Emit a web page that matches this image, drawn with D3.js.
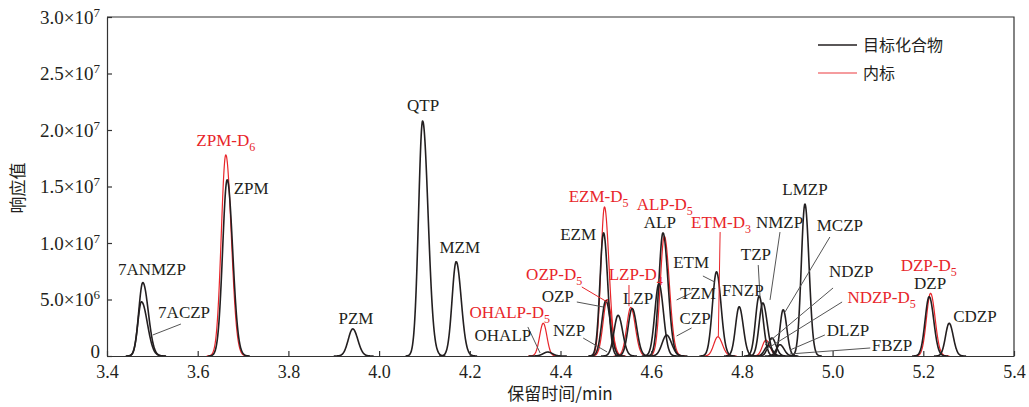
<!DOCTYPE html>
<html>
<head>
<meta charset="utf-8">
<script src="https://cdn.jsdelivr.net/npm/d3@7"></script>
<style>
  body { margin: 0; background: #fff; }
  text { font-family: "Liberation Serif", "Times New Roman", serif; fill: #231f20; }
</style>
</head>
<body>
<svg class="canvas"></svg>
<script>
// target compounds (black traces); heights in 10^6, widths (sigma) in min
const targetNames   = ['7ANMZP','7ACZP','ZPM','PZM','QTP','MZM','OHALP','EZM','OZP','NZP','LZP','TZM','ALP','CZP','ETM','FNZP','TZP','NMZP','FBZP','NDZP','DLZP','MCZP','LMZP','DZP','CDZP'];
const targetRT      = [3.479,3.476,3.665,3.942,4.096,4.170,4.372,4.495,4.500,4.527,4.558,4.617,4.626,4.634,4.744,4.794,4.838,4.846,4.858,4.866,4.884,4.891,4.939,5.213,5.257];
const targetHeight  = [6.5,4.8,15.6,2.4,20.8,8.35,0.35,10.9,4.9,3.6,4.2,6.4,10.9,1.85,7.45,4.36,5.3,4.7,0.9,1.6,1.0,4.1,13.45,5.25,2.9];
const targetSigmaL  = [0.009,0.008,0.010,0.010,0.009,0.009,0.010,0.008,0.009,0.009,0.009,0.009,0.009,0.010,0.009,0.008,0.008,0.008,0.008,0.008,0.008,0.007,0.008,0.009,0.008];
const targetSigmaR  = [0.012,0.013,0.012,0.011,0.012,0.011,0.010,0.009,0.010,0.010,0.010,0.010,0.011,0.011,0.010,0.009,0.009,0.010,0.009,0.009,0.009,0.008,0.009,0.010,0.009];

// internal standards (red traces)
const isNames   = ['ZPM-D6','OHALP-D5','EZM-D5','OZP-D5','LZP-D4','ALP-D5','ETM-D3','NDZP-D5','DZP-D5'];
const isRT      = [3.662,4.362,4.497,4.503,4.555,4.629,4.747,4.853,5.216];
const isHeight  = [17.8,2.9,13.2,5.0,4.3,10.6,1.7,1.4,5.55];
const isSigmaL  = [0.010,0.008,0.008,0.009,0.009,0.009,0.009,0.008,0.009];
const isSigmaR  = [0.012,0.008,0.010,0.010,0.010,0.011,0.010,0.009,0.010];

const xTicks = [3.4,3.6,3.8,4.0,4.2,4.4,4.6,4.8,5.0,5.2,5.4];
const yTicks = [0,5e6,1e7,1.5e7,2e7,2.5e7,3e7];
const legendLabels = ['目标化合物','内标'];

const w = 1029;
const h = 407;
const margin = {top: 17, right: 15, bottom: 51, left: 107};
const black = '#231f20';
const red = '#e8252a';

const svg = d3.select('svg.canvas').attr('width', w).attr('height', h);

const xScale = d3.scaleLinear().domain([3.4, 5.4]).range([margin.left, w - margin.right]);
const yScale = d3.scaleLinear().domain([0, 3e7]).range([h - margin.bottom, margin.top]);

// peak traces
let peakPoints = (rt, height, sl, sr) => {
    let pts = [];
    for (let t = rt - 4.2 * sl; t <= rt + 4.2 * sr; t += 0.0005) {
        let s = t < rt ? sl : sr;
        pts.push([t, height * 1e6 * Math.exp(-0.5 * Math.pow((t - rt) / s, 2))]);
    }
    return pts;
}

const line = d3.line().x(d => xScale(d[0])).y(d => yScale(d[1])).curve(d3.curveBasis);

const plot = svg.append('g');

isNames.forEach((n, i) => {
    plot.append('path')
        .attr('d', line(peakPoints(isRT[i], isHeight[i], isSigmaL[i], isSigmaR[i])))
        .attr('fill', 'none').attr('stroke', red).attr('stroke-width', 1.2);
});
targetNames.forEach((n, i) => {
    plot.append('path')
        .attr('d', line(peakPoints(targetRT[i], targetHeight[i], targetSigmaL[i], targetSigmaR[i])))
        .attr('fill', 'none').attr('stroke', black).attr('stroke-width', 1.6);
});

// leader lines (data units: min, 10^6)
const leaders = [
    [3.563,2.83,3.501,1.86,'#555'],
    [4.328,2.57,4.355,0.27,'#555'],
    [4.450,1.59,4.503,0.35,'#555'],
    [4.436,4.78,4.494,4.34,'#555'],
    [4.447,6.11,4.503,4.78,red],
    [4.551,6.28,4.551,4.40,red],
    [4.714,7.08,4.740,6.55,'#555'],
    [4.689,5.58,4.656,4.96,'#555'],
    [4.689,2.48,4.656,1.77,'#555'],
    [4.752,10.97,4.748,1.70,red],
    [4.884,10.97,4.862,4.96,'#555'],
    [4.836,8.05,4.840,5.22,'#555'],
    [4.994,10.53,4.895,3.89,'#555'],
    [5.001,6.02,4.851,0.97,'#555'],
    [5.021,4.78,4.851,0.53,'#555'],
    [4.983,1.86,4.906,0.53,'#555'],
    [5.083,0.71,4.906,0.18,'#555']
];
leaders.forEach(l => {
    plot.append('line')
        .attr('x1', xScale(l[0])).attr('y1', yScale(l[1] * 1e6))
        .attr('x2', xScale(l[2])).attr('y2', yScale(l[3] * 1e6))
        .attr('stroke', l[4]).attr('stroke-width', 1);
});

// peak labels: [text, subscript, red?, t, value 10^6]
const labels = [
    ['7ANMZP','',0,3.499,7.70], ['7ACZP','',0,3.570,3.89],
    ['ZPM-D','6',1,3.662,19.1], ['ZPM','',0,3.718,14.87],
    ['PZM','',0,3.949,3.36], ['QTP','',0,4.097,22.2], ['MZM','',0,4.178,9.65],
    ['OHALP-D','5',1,4.288,3.89], ['OHALP','',0,4.273,1.86],
    ['NZP','',0,4.419,2.30], ['OZP','',0,4.394,5.31], ['OZP-D','5',1,4.386,7.26],
    ['EZM','',0,4.439,10.8], ['EZM-D','5',1,4.484,14.16],
    ['LZP-D','4',1,4.566,7.26], ['LZP','',0,4.571,5.13],
    ['ALP-D','5',1,4.630,13.45], ['ALP','',0,4.619,11.86],
    ['ETM','',0,4.688,8.32], ['TZM','',0,4.703,5.58], ['CZP','',0,4.697,3.36],
    ['ETM-D','3',1,4.754,11.86], ['NMZP','',0,4.883,11.86], ['TZP','',0,4.831,9.03],
    ['FNZP','',0,4.802,5.84], ['LMZP','',0,4.939,14.78], ['MCZP','',0,5.016,11.59],
    ['NDZP','',0,5.041,7.52], ['NDZP-D','5',1,5.108,5.22], ['DLZP','',0,5.034,2.30],
    ['FBZP','',0,5.131,0.97], ['DZP-D','5',1,5.212,8.05], ['DZP','',0,5.215,6.46],
    ['CDZP','',0,5.314,3.54]
];
labels.forEach(l => {
    let t = plot.append('text')
        .attr('x', xScale(l[3])).attr('y', yScale(l[4] * 1e6))
        .attr('text-anchor', 'middle').attr('dy', '0.35em')
        .style('font-size', '17px')
        .style('fill', l[2] ? red : black)
        .text(l[0]);
    if (l[1]) {
        t.append('tspan').attr('dy', '5').style('font-size', '12px').text(l[1]);
    }
});

// axes
const xAxis = d3.axisBottom(xScale).tickValues(xTicks).tickSizeInner(-5).tickSizeOuter(0).tickPadding(9).tickFormat(d3.format('.1f'));
const yAxis = d3.axisLeft(yScale).tickValues(yTicks).tickSizeInner(-5).tickSizeOuter(0).tickPadding(7).tickFormat('');

svg.append('g').attr('transform', 'translate(0,' + (h - margin.bottom) + ')').call(xAxis)
    .call(g => g.selectAll('text').style('font-size', '18px').style('font-family', '"Liberation Serif", serif').attr('fill', black));
const yG = svg.append('g').attr('transform', 'translate(' + margin.left + ',0)').call(yAxis);
yG.selectAll('.tick text').each(function(d) {
    let el = d3.select(this).style('font-size', '19px').style('font-family', '"Liberation Serif", serif').attr('fill', black);
    if (d === 0) { el.attr('dy', '0.1em').text('0'); return; }
    let e = Math.floor(Math.log10(d));
    el.append('tspan').text((d / Math.pow(10, e)).toFixed(1) + '×10');
    el.append('tspan').attr('dy', '-7').style('font-size', '13px').text(e);
});
svg.selectAll('.domain, .tick line').attr('stroke', '#333').attr('stroke-width', 1.2);

// frame top & right
svg.append('path')
    .attr('d', 'M' + margin.left + ',' + margin.top + 'H' + (w - margin.right) + 'V' + (h - margin.bottom))
    .attr('fill', 'none').attr('stroke', '#333').attr('stroke-width', 1.2);

// axis titles
svg.append('text').attr('x', 560).attr('y', 400).attr('text-anchor', 'middle')
    .style('font-size', '17px').style('font-family', '"Noto Sans CJK SC", sans-serif')
    .text('保留时间/min');
svg.append('text').attr('transform', 'translate(24,188) rotate(-90)').attr('text-anchor', 'middle')
    .style('font-size', '17px').style('font-family', '"Noto Sans CJK SC", sans-serif')
    .text('响应值');

// legend
const legend = svg.append('g').attr('transform', 'translate(818,45)');
legendLabels.forEach((lab, i) => {
    legend.append('line').attr('x1', 0).attr('x2', 39).attr('y1', i * 28).attr('y2', i * 28)
        .attr('stroke', i ? '#f27b7e' : black).attr('stroke-width', 1.6);
    legend.append('text').attr('x', 45).attr('y', i * 28).attr('dy', '0.35em')
        .style('font-size', '16px').style('font-family', '"Noto Sans CJK SC", sans-serif')
        .text(lab);
});
</script>
</body>
</html>
